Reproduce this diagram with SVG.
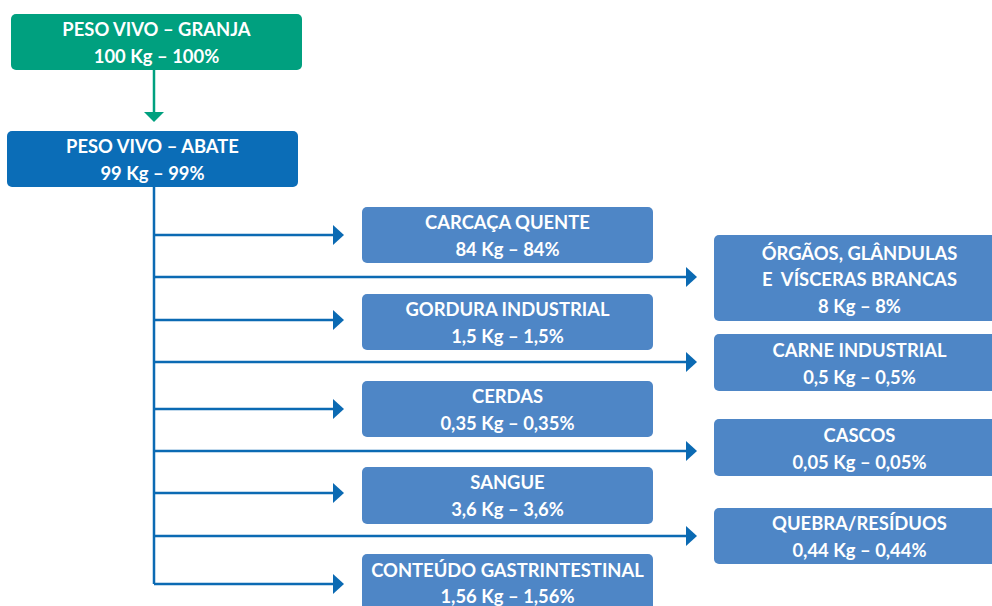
<svg xmlns="http://www.w3.org/2000/svg" width="992" height="606" viewBox="0 0 992 606">
<defs>
<style>
.lbl{font-family:Lato,"Open Sans","Liberation Sans",sans-serif;font-weight:bold;font-size:18.4px;fill:#ffffff;text-anchor:middle}
.box{fill:#4E86C6}
.con{stroke:#0B6AB3;stroke-width:2.5;fill:none}
.ah{fill:#0B6AB3}
</style>
</defs>
<rect width="992" height="606" fill="#ffffff"/>
<g id="connectors">
<line x1="154" y1="70" x2="154" y2="113" stroke="#00A07F" stroke-width="2.5"/>
<polygon points="144,112 164,112 154,122" fill="#00A07F"/>
<path class="con" d="M154,187 V584"/>
<path class="con" d="M154,235 H334 M154,320 H334 M154,409 H334 M154,493 H334 M154,584 H334"/>
<path class="con" d="M154,277 H688 M154,362 H688 M154,451 H688 M154,536 H688"/>
<polygon class="ah" points="333,225 344,235 333,245"/>
<polygon class="ah" points="333,310 344,320 333,330"/>
<polygon class="ah" points="333,399 344,409 333,419"/>
<polygon class="ah" points="333,483 344,493 333,503"/>
<polygon class="ah" points="333,574 344,584 333,594"/>
<polygon class="ah" points="686,267 697,277 686,287"/>
<polygon class="ah" points="686,352 697,362 686,372"/>
<polygon class="ah" points="686,441 697,451 686,461"/>
<polygon class="ah" points="686,526 697,536 686,546"/>
</g>
<g id="granja">
<rect x="11" y="14" width="291" height="56" rx="5" fill="#00A07F"/>
<text class="lbl" x="156.5" y="36">PESO VIVO – GRANJA</text>
<text class="lbl" x="156.5" y="63">100 Kg – 100%</text>
</g>
<g id="abate">
<rect x="7" y="131" width="291" height="56" rx="5" fill="#0B6DB7"/>
<text class="lbl" x="152.5" y="153">PESO VIVO – ABATE</text>
<text class="lbl" x="152.5" y="180">99 Kg – 99%</text>
</g>
<g id="carcaca">
<rect class="box" x="362" y="207" width="291" height="56" rx="5"/>
<text class="lbl" x="507.5" y="229">CARCAÇA QUENTE</text>
<text class="lbl" x="507.5" y="256">84 Kg – 84%</text>
</g>
<g id="gordura">
<rect class="box" x="362" y="294" width="291" height="56" rx="5"/>
<text class="lbl" x="507.5" y="316">GORDURA INDUSTRIAL</text>
<text class="lbl" x="507.5" y="343">1,5 Kg – 1,5%</text>
</g>
<g id="cerdas">
<rect class="box" x="362" y="381" width="291" height="56" rx="5"/>
<text class="lbl" x="507.5" y="403">CERDAS</text>
<text class="lbl" x="507.5" y="430">0,35 Kg – 0,35%</text>
</g>
<g id="sangue">
<rect class="box" x="362" y="467" width="291" height="57" rx="5"/>
<text class="lbl" x="507.5" y="489">SANGUE</text>
<text class="lbl" x="507.5" y="516">3,6 Kg – 3,6%</text>
</g>
<g id="conteudo">
<rect class="box" x="362" y="554" width="291" height="57" rx="5"/>
<text class="lbl" x="507.5" y="577">CONTEÚDO GASTRINTESTINAL</text>
<text class="lbl" x="507.5" y="603">1,56 Kg – 1,56%</text>
</g>
<g id="orgaos">
<rect class="box" x="714" y="235" width="291" height="86" rx="5"/>
<text class="lbl" x="859.5" y="260">ÓRGÃOS, GLÂNDULAS</text>
<text class="lbl" x="859.5" y="286" style="white-space:pre" xml:space="preserve">E  VÍSCERAS BRANCAS</text>
<text class="lbl" x="859.5" y="313">8 Kg – 8%</text>
</g>
<g id="carne">
<rect class="box" x="714" y="334" width="291" height="57" rx="5"/>
<text class="lbl" x="859.5" y="357">CARNE INDUSTRIAL</text>
<text class="lbl" x="859.5" y="384">0,5 Kg – 0,5%</text>
</g>
<g id="cascos">
<rect class="box" x="714" y="419" width="291" height="57" rx="5"/>
<text class="lbl" x="859.5" y="442">CASCOS</text>
<text class="lbl" x="859.5" y="469">0,05 Kg – 0,05%</text>
</g>
<g id="quebra">
<rect class="box" x="714" y="508" width="291" height="56" rx="5"/>
<text class="lbl" x="859.5" y="530">QUEBRA/RESÍDUOS</text>
<text class="lbl" x="859.5" y="557">0,44 Kg – 0,44%</text>
</g>
</svg>
